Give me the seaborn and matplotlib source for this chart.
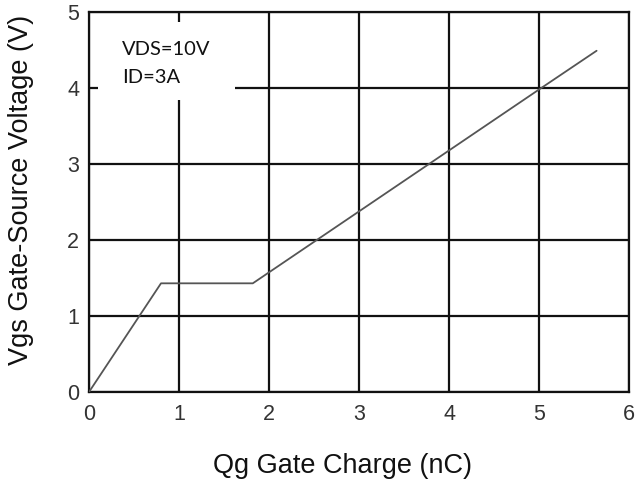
import matplotlib
matplotlib.use("Agg")
import matplotlib.pyplot as plt
import seaborn as sns
import pandas as pd
from matplotlib.patches import Rectangle

qg = [0.0, 0.80, 1.82, 5.0, 5.64]
vgs = [0.0, 1.43, 1.43, 3.98, 4.49]
x_ticks = [0, 1, 2, 3, 4, 5, 6]
y_ticks = [0, 1, 2, 3, 4, 5]

sns.set_theme(style="white")
plt.rcParams['font.family'] = ['Liberation Sans', 'DejaVu Sans']

df = pd.DataFrame({"Qg": qg, "Vgs": vgs})

fig = plt.figure(figsize=(6.36, 4.84), dpi=100)
ax = fig.add_axes([89/636, 92/484, 540/636, 380/484])

ax.set_xlim(0, 6)
ax.set_ylim(0, 5)
ax.set_xticks(x_ticks)
ax.set_yticks(y_ticks)
ax.grid(True, color="#111111", linewidth=1.6)
ax.set_axisbelow(True)

# white label box covering part of grid
ax.add_patch(Rectangle((0.1, 3.84), 1.52, 1.03, facecolor="white", edgecolor="none", zorder=1.5))

sns.lineplot(data=df, x="Qg", y="Vgs", ax=ax, color="#555555", linewidth=1.3, zorder=3)

for s in ax.spines.values():
    s.set_color("#111111")
    s.set_linewidth(1.6)
    s.set_visible(True)

ax.tick_params(axis="both", length=0, labelsize=15.5, labelcolor="#333333")
ax.tick_params(axis="x", pad=9)
ax.tick_params(axis="y", pad=7)

ax.set_xlabel("Qg Gate Charge (nC)", fontsize=19.5, color="#111111", labelpad=20)
ax.xaxis.label.set_x(0.469)
ax.set_ylabel("Vgs Gate-Source Voltage (V)", fontsize=19.5, color="#111111", labelpad=24)
ax.yaxis.label.set_y(0.532)

ax.text(0.367, 4.50, "VDS=10V", fontsize=14.5, family=["Lato", "DejaVu Sans"], color="#111111", va="center", zorder=4)
ax.text(0.367, 4.14, "ID=3A", fontsize=14.5, family=["Lato", "DejaVu Sans"], color="#111111", va="center", zorder=4)

fig.savefig("out.png", dpi=100)
